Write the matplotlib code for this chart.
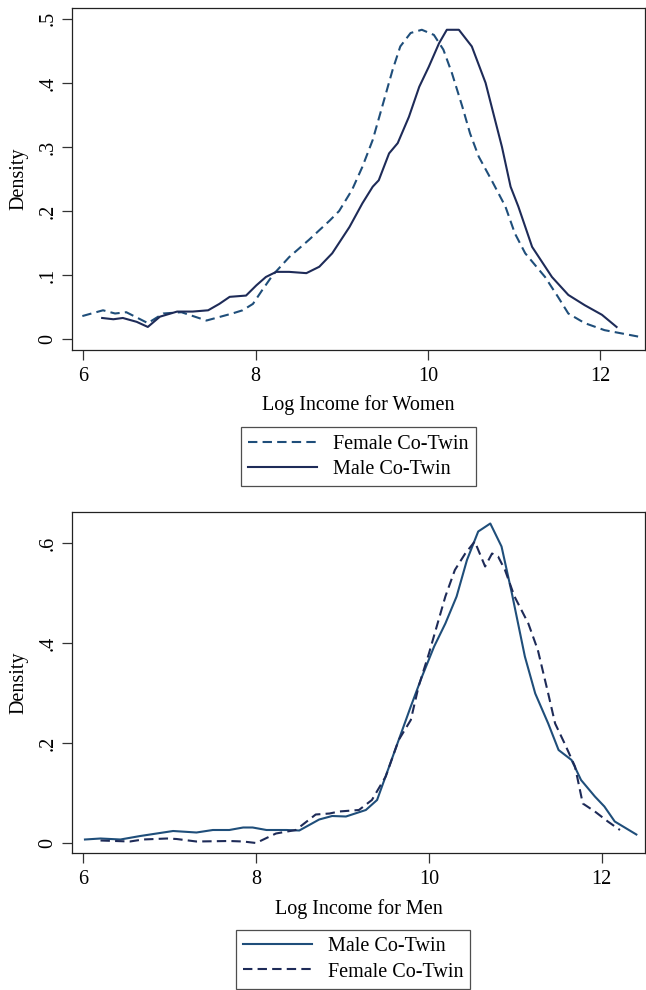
import matplotlib
matplotlib.use("Agg")
import matplotlib.pyplot as plt

plt.rcParams['font.family'] = ['Liberation Serif', 'DejaVu Serif']

# top panel: women, by sex of co-twin
w_fem_x = [5.99, 6.23, 6.37, 6.5, 6.75, 6.93, 7.14, 7.43, 7.73, 7.85, 7.97, 8.08, 8.2, 8.39, 8.62,
           8.86, 8.97, 9.12, 9.24, 9.36, 9.47, 9.59, 9.68, 9.80, 9.93, 10.07, 10.18, 10.28, 10.40,
           10.49, 10.59, 10.74, 10.90, 11.01, 11.13, 11.36, 11.51, 11.63, 11.82, 12.05, 12.44]
w_fem_y = [0.036, 0.045, 0.040, 0.042, 0.025, 0.040, 0.042, 0.029, 0.040, 0.045, 0.055, 0.077, 0.10,
           0.128, 0.155, 0.185, 0.20, 0.233, 0.269, 0.311, 0.363, 0.42, 0.457, 0.478, 0.483, 0.475,
           0.452, 0.415, 0.363, 0.321, 0.285, 0.248, 0.207, 0.165, 0.134, 0.097, 0.066, 0.040,
           0.025, 0.014, 0.004]
w_male_x = [6.22, 6.35, 6.46, 6.62, 6.75, 6.89, 7.09, 7.27, 7.45, 7.58, 7.70, 7.89, 8.01, 8.12, 8.24,
            8.39, 8.59, 8.74, 8.89, 9.09, 9.24, 9.36, 9.43, 9.55, 9.65, 9.78, 9.90, 10.01, 10.13,
            10.22, 10.36, 10.51, 10.67, 10.78, 10.86, 10.96, 11.05, 11.21, 11.44, 11.63, 11.82,
            12.02, 12.19]
w_male_y = [0.033, 0.031, 0.033, 0.027, 0.019, 0.035, 0.043, 0.043, 0.045, 0.055, 0.066, 0.068, 0.084,
            0.097, 0.105, 0.105, 0.103, 0.113, 0.134, 0.175, 0.212, 0.238, 0.248, 0.29, 0.306, 0.347,
            0.394, 0.425, 0.462, 0.483, 0.483, 0.457, 0.40, 0.342, 0.30, 0.238, 0.207, 0.144, 0.097,
            0.069, 0.053, 0.038, 0.019]

# bottom panel: men, by sex of co-twin
m_male_x = [6.02, 6.2, 6.43, 6.66, 6.85, 7.04, 7.31, 7.5, 7.69, 7.85, 7.96, 8.12, 8.35, 8.5, 8.73,
            8.88, 9.04, 9.27, 9.40, 9.54, 9.65, 9.79, 9.92, 10.06, 10.19, 10.32, 10.44, 10.57,
            10.71, 10.84, 10.96, 11.11, 11.23, 11.38, 11.50, 11.65, 11.76, 11.92, 12.03, 12.15, 12.40]
m_male_y = [0.007, 0.009, 0.007, 0.014, 0.019, 0.024, 0.021, 0.026, 0.026, 0.031, 0.031, 0.026, 0.026,
            0.025, 0.047, 0.054, 0.053, 0.066, 0.086, 0.153, 0.206, 0.273, 0.333, 0.393, 0.439,
            0.493, 0.566, 0.623, 0.639, 0.593, 0.499, 0.373, 0.299, 0.239, 0.186, 0.166, 0.126,
            0.093, 0.073, 0.043, 0.017]
m_fem_x = [6.2, 6.54, 6.69, 6.97, 7.08, 7.31, 7.69, 7.85, 8.0, 8.23, 8.46, 8.69, 8.85, 8.96, 9.19,
           9.34, 9.50, 9.65, 9.79, 9.88, 10.0, 10.09, 10.19, 10.30, 10.42, 10.53, 10.65, 10.73,
           10.80, 10.88, 10.99, 11.15, 11.26, 11.38, 11.46, 11.57, 11.69, 11.78, 11.92, 12.07, 12.21]
m_fem_y = [0.005, 0.003, 0.007, 0.009, 0.008, 0.003, 0.004, 0.003, 0.0, 0.019, 0.026, 0.057, 0.059,
           0.063, 0.066, 0.086, 0.133, 0.206, 0.246, 0.313, 0.379, 0.433, 0.493, 0.546, 0.579,
           0.603, 0.553, 0.579, 0.573, 0.546, 0.493, 0.439, 0.386, 0.299, 0.239, 0.199, 0.153,
           0.079, 0.063, 0.043, 0.026]

x_ticks = [6, 8, 10, 12]
top_yticks = [0, 0.1, 0.2, 0.3, 0.4, 0.5]
top_ylabels = ["0", ".1", ".2", ".3", ".4", ".5"]
bot_yticks = [0, 0.2, 0.4, 0.6]
bot_ylabels = ["0", ".2", ".4", ".6"]

c_blue = "#1f4e7a"
c_navy = "#1e2b58"
dash = (0, (4.5, 2.5))
fs = 14.5

fig = plt.figure(figsize=(6.46, 9.9), dpi=100)
ax1 = fig.add_axes([72 / 646, 1 - 350 / 990, 573 / 646, 342 / 990])
ax2 = fig.add_axes([72 / 646, 1 - 853 / 990, 573 / 646, 341 / 990])

ax1.plot(w_fem_x, w_fem_y, color=c_blue, lw=1.5, ls=dash, label="Female Co-Twin")
ax1.plot(w_male_x, w_male_y, color=c_navy, lw=1.5, label="Male Co-Twin")
ax1.set_xlim(5.87, 12.52)
ax1.set_ylim(-0.017, 0.517)
ax1.set_yticks(top_yticks)
ax1.set_yticklabels(top_ylabels)
ax1.set_xlabel("Log Income for Women", fontsize=fs, labelpad=6)

ax2.plot(m_male_x, m_male_y, color=c_blue, lw=1.5, label="Male Co-Twin")
ax2.plot(m_fem_x, m_fem_y, color=c_navy, lw=1.5, ls=dash, label="Female Co-Twin")
ax2.set_xlim(5.87, 12.5)
ax2.set_ylim(-0.02, 0.662)
ax2.set_yticks(bot_yticks)
ax2.set_yticklabels(bot_ylabels)
ax2.set_xlabel("Log Income for Men", fontsize=fs, labelpad=7)

for ax in (ax1, ax2):
    ax.set_xticks(x_ticks)
    ax.set_ylabel("Density", fontsize=fs, labelpad=7)
    ax.tick_params(labelsize=fs, length=7, width=0.9, color="#333333")
    ax.tick_params(axis="x", pad=5.5)
    for lab in ax.get_yticklabels():
        lab.set_rotation(90)
        lab.set_va("center")
    for sp in ax.spines.values():
        sp.set_linewidth(0.9)
        sp.set_color("#222222")

leg1 = ax1.legend(loc="upper center", bbox_to_anchor=(0.5, -0.197), fontsize=fs, fancybox=False,
                  edgecolor="#222222", handlelength=3.4, borderpad=0.35, labelspacing=0.3)
leg2 = ax2.legend(loc="upper center", bbox_to_anchor=(0.491, -0.197), fontsize=fs, fancybox=False,
                  edgecolor="#222222", handlelength=3.4, borderpad=0.35, labelspacing=0.3)
for leg in (leg1, leg2):
    leg.get_frame().set_linewidth(0.9)

fig.savefig("out.png", dpi=100)
